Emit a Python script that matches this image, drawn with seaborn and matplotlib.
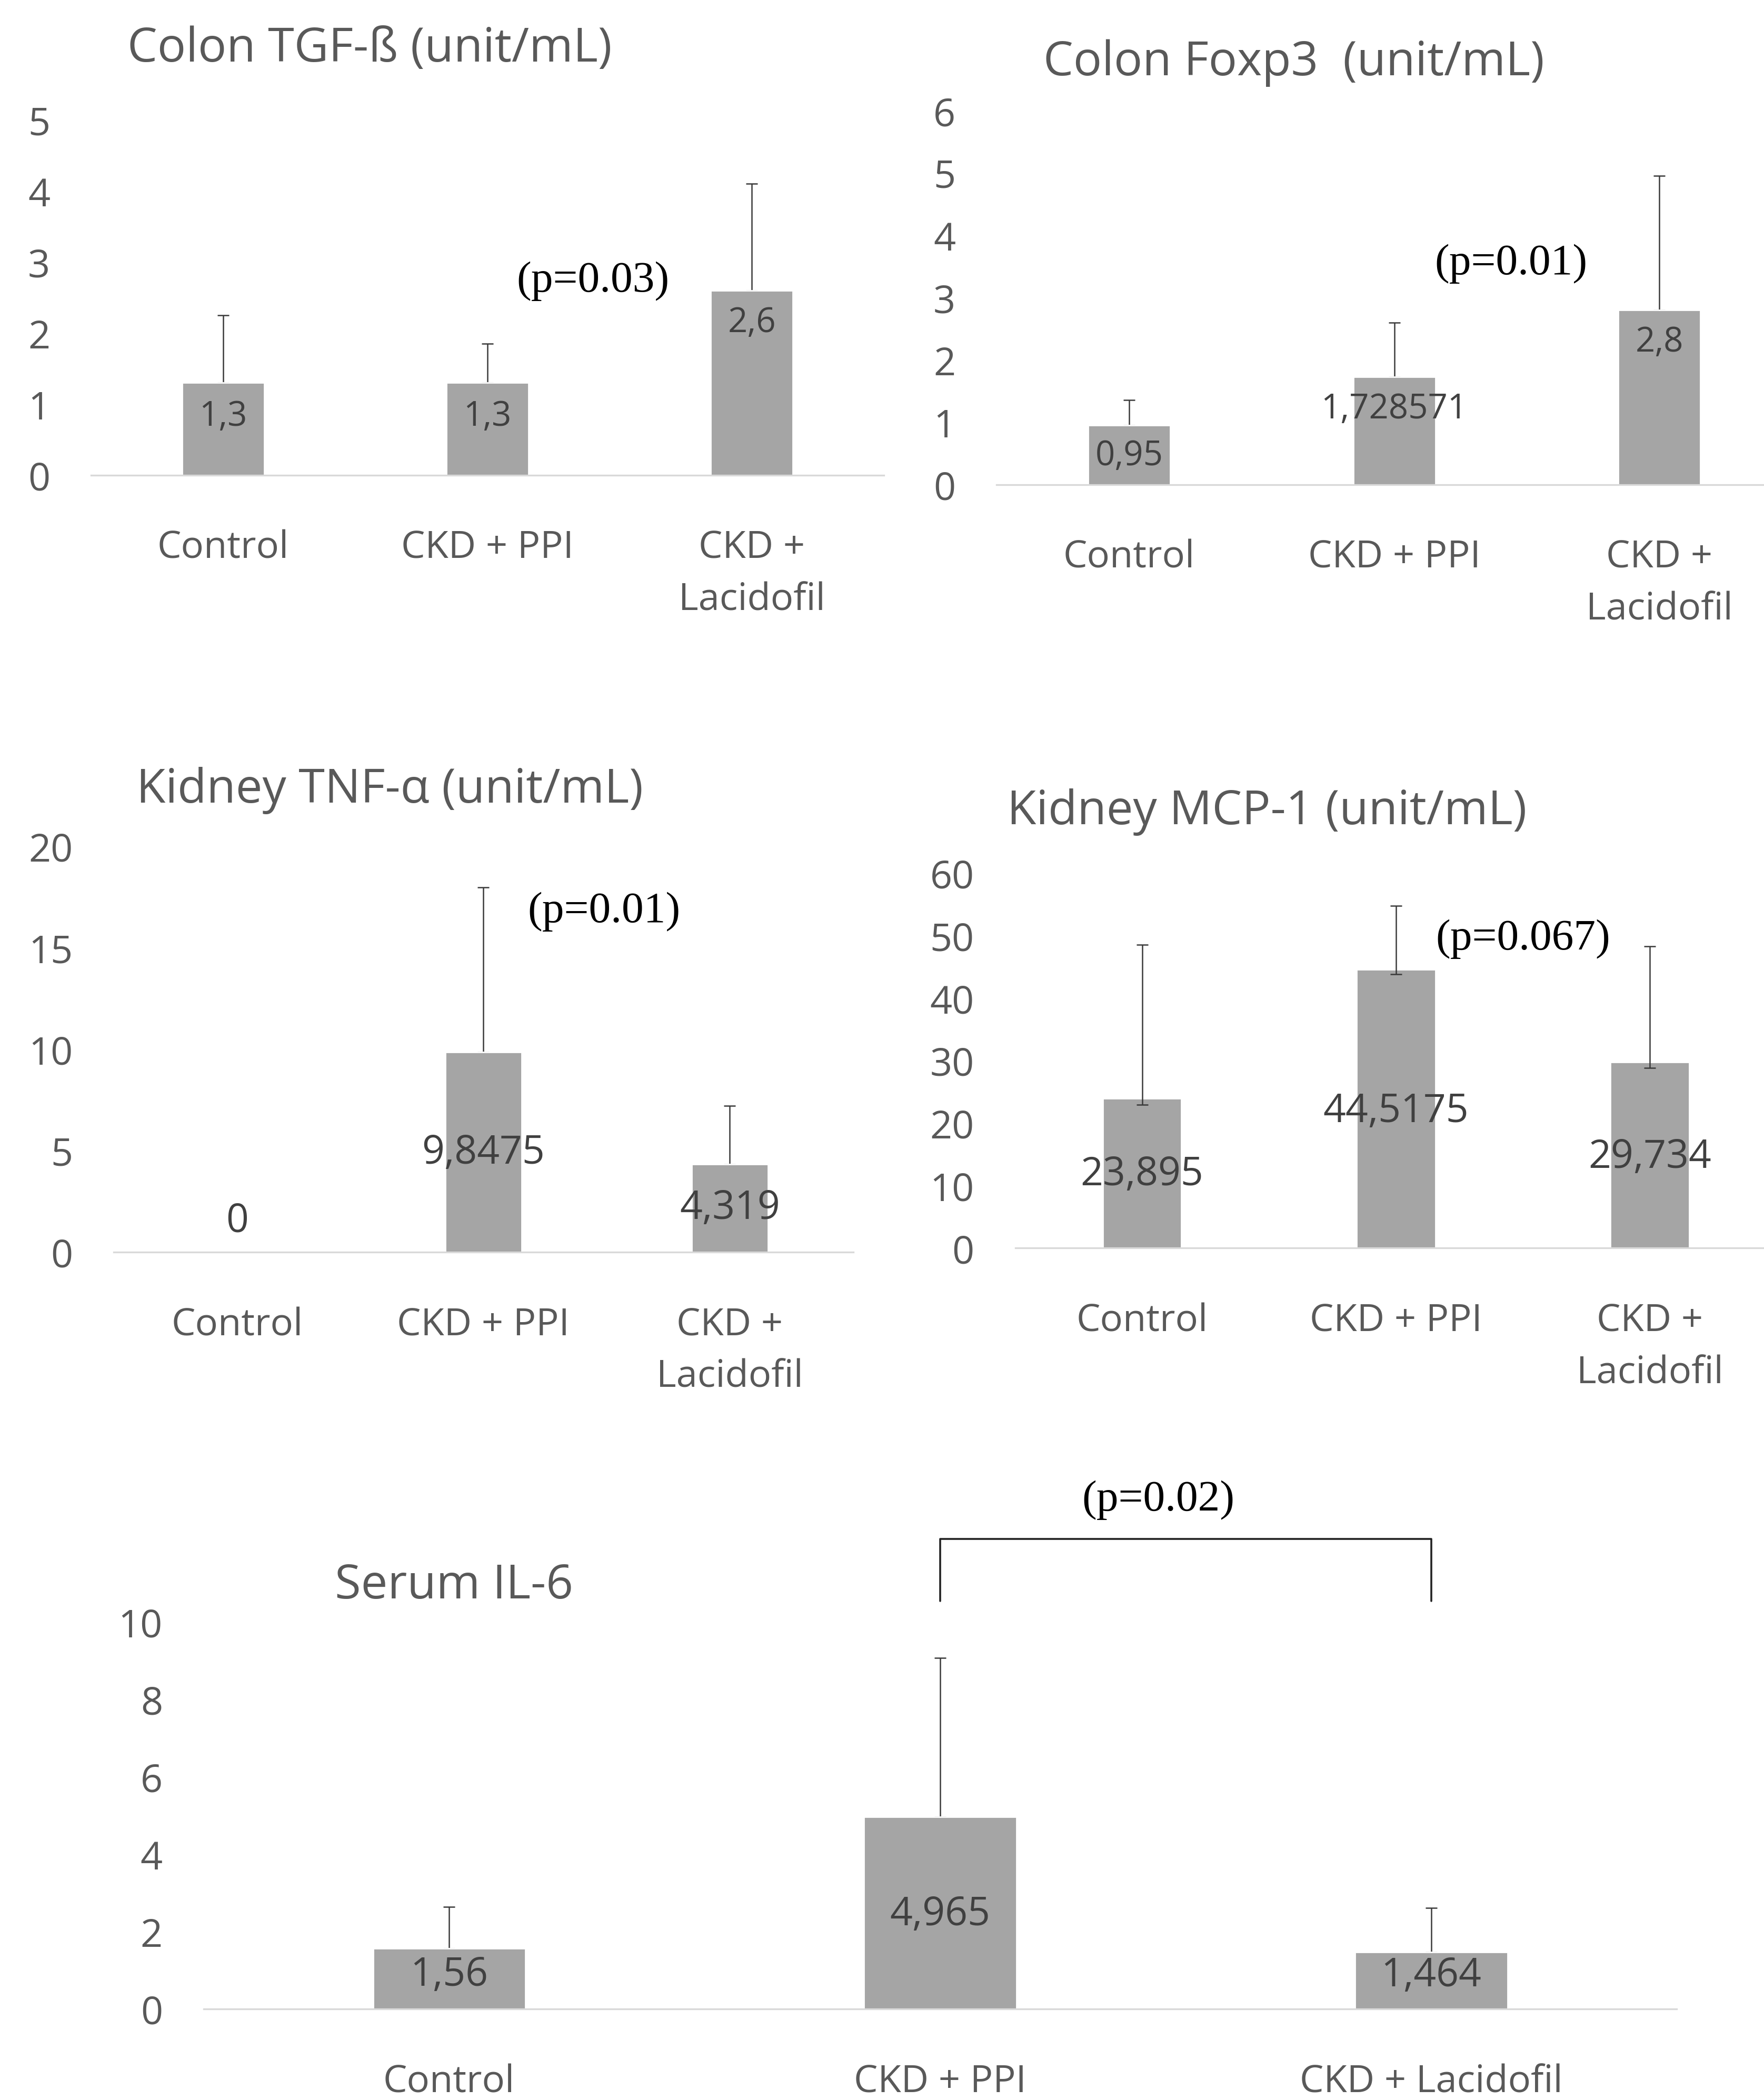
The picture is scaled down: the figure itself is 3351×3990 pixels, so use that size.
import numpy as np
import pandas as pd
import seaborn as sns
import matplotlib.pyplot as plt

# group names (short panels wrap the last label)
groups = ["Control", "CKD + PPI", "CKD +\nLacidofil"]
groups_wide = ["Control", "CKD + PPI", "CKD + Lacidofil"]

# values (mean, upper error)
tgf_mean = [1.3, 1.3, 2.6]
tgf_err = [0.95, 0.55, 1.50]

foxp3_mean = [0.95, 1.728571, 2.8]
foxp3_err = [0.41, 0.87, 2.16]

tnf_mean = [0, 9.8475, 4.319]
tnf_err = [0, 8.13, 2.90]

mcp_mean = [23.895, 44.5175, 29.734]
mcp_err_up = [24.6, 10.2, 18.5]
mcp_err_lo = [1.0, 0.7, 0.9]

il6_mean = [1.56, 4.965, 1.464]
il6_err = [1.08, 4.10, 1.15]

p_texts = ["(p=0.03)", "(p=0.01)", "(p=0.01)", "(p=0.067)", "(p=0.02)"]

BAR = "#A5A5A5"
TXT = "#595959"
LAB = "#404040"

sns.set_theme(style="white")
plt.rcParams["font.family"] = ["Open Sans", "DejaVu Sans"]

fig = plt.figure(figsize=(3351 / 200, 3991 / 200), dpi=200)
fig.patch.set_facecolor("white")

panels = [
    dict(title="Colon TGF-ß (unit/mL)", cats=groups, mean=tgf_mean, up=tgf_err, lo=None,
         ymax=5, step=1, rect=[0.0516, 0.7736, 0.4495, 0.1690], title_xy=(0.0721, 0.9764),
         lab_size=23.5, lab_dy=[23, 23, 22], p=p_texts[0], p_xy=(1.40, 2.74)),
    dict(title="Colon Foxp3  (unit/mL)", cats=groups, mean=foxp3_mean, up=foxp3_err, lo=None,
         ymax=6, step=1, rect=[0.5649, 0.7691, 0.4510, 0.1779], title_xy=(0.5915, 0.9700),
         lab_size=23.5, lab_dy=[21, 22, 22], p=p_texts[1], p_xy=(1.44, 3.55)),
    dict(title="Kidney TNF-α (unit/mL)", cats=groups, mean=tnf_mean, up=tnf_err, lo=None,
         ymax=20, step=5, rect=[0.0645, 0.4037, 0.4191, 0.1932], title_xy=(0.0774, 0.6237),
         lab_size=27, lab_dy=[-21, 69, 30], p=p_texts[2], p_xy=(1.49, 16.8)),
    dict(title="Kidney MCP-1 (unit/mL)", cats=groups, mean=mcp_mean, up=mcp_err_up, lo=mcp_err_lo,
         ymax=60, step=10, rect=[0.5755, 0.4056, 0.4317, 0.1786], title_xy=(0.5710, 0.6135),
         lab_size=27, lab_dy=[52, 97, 65], p=p_texts[3], p_xy=(1.50, 49.5)),
    dict(title="Serum IL-6", cats=groups_wide, mean=il6_mean, up=il6_err, lo=None,
         ymax=10, step=2, rect=[0.1154, 0.0434, 0.8352, 0.1843], title_xy=(0.1898, 0.2449),
         lab_size=27, lab_dy=[18, 67, 16], p=p_texts[4], p_xy=(1.444, 13.15)),
]

for i, pn in enumerate(panels):
    ax = fig.add_axes(pn["rect"])
    df = pd.DataFrame({"group": pn["cats"], "value": pn["mean"]})
    sns.barplot(data=df, x="group", y="value", color=BAR, width=0.31,
                saturation=1, errorbar=None, ax=ax)

    x = np.arange(len(pn["mean"]))
    up = np.array(pn["up"])
    lo = np.zeros_like(up) if pn["lo"] is None else np.array(pn["lo"])
    keep = up > 0
    ax.errorbar(x[keep], np.array(pn["mean"])[keep], yerr=[lo[keep], up[keep]],
                fmt="none", ecolor="#3a3a3a", elinewidth=0.9, capsize=4, capthick=0.9,
                zorder=3 if pn["lo"] is not None else 0.5)

    for xi, v, dy in zip(x, pn["mean"], pn["lab_dy"]):
        ax.annotate(f"{v:.10g}".replace(".", ","), xy=(xi, v), xytext=(0, -dy),
                    textcoords="offset points", ha="center", va="center",
                    fontsize=pn["lab_size"], color=LAB, zorder=4)

    ax.set_ylim(0, pn["ymax"])
    ax.set_yticks(np.arange(0, pn["ymax"] + 0.1, pn["step"]))
    ax.set_xlim(-0.5, 2.5)
    ax.set_xlabel("")
    ax.set_ylabel("")
    ax.tick_params(axis="y", length=0, pad=28, labelsize=26.5, labelcolor=TXT)
    ax.tick_params(axis="x", length=0, pad=37, labelsize=26, labelcolor=TXT)
    for lbl in ax.get_xticklabels():
        lbl.set_linespacing(1.5)
    sns.despine(ax=ax, left=True, top=True, right=True)
    ax.spines["bottom"].set_color("#D9D9D9")
    ax.spines["bottom"].set_linewidth(1.2)
    ax.set_facecolor("none")

    ax.text(pn["p_xy"][0], pn["p_xy"][1], pn["p"], ha="center", va="center",
            fontsize=30, family="Liberation Serif", color="black", clip_on=False)

    fig.text(pn["title_xy"][0], pn["title_xy"][1], pn["title"], ha="left", va="center",
             fontsize=32.5, color=TXT)

    if i == 4:
        # bracket between CKD + PPI and CKD + Lacidofil
        ax.plot([1, 1, 2, 2], [10.53, 12.14, 12.14, 10.53], color="#222222",
                lw=1.3, clip_on=False)

fig.savefig("out.png", dpi=200, facecolor="white")
